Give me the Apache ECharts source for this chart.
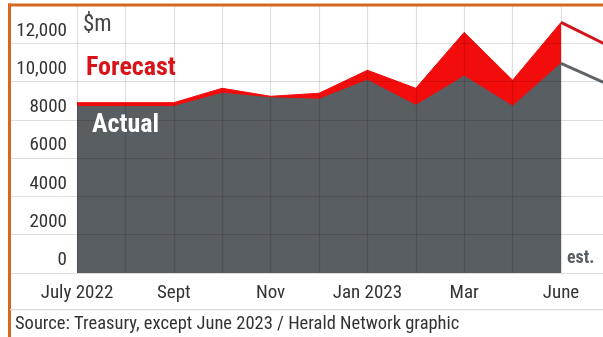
<!DOCTYPE html>
<html>
<head>
<meta charset="utf-8">
<script src="https://cdn.jsdelivr.net/npm/echarts@6/dist/echarts.min.js"></script>
<style>
  html, body { margin: 0; padding: 0; background: #fff; }
  #chart { width: 603px; height: 337px; }
</style>
</head>
<body>
<div id="chart"></div>
<script>
// Monthly tax take, $m (category labels as printed on the axis)
const months = ['July 2022', '', 'Sept', '', 'Nov', '', 'Jan 2023', '', 'Mar', '', 'June', ''];
const forecast = [8900, 8900, 8900, 9650, 9230, 9390, 10590, 9650, 12570, 10070, 13090];
const actual   = [8700, 8700, 8700, 9390, 9150, 9080, 10070, 8760, 10280, 8710, 10950];
// June 2023 estimate, drawn as lines only
const forecastEst = [13090, 11840];
const actualEst   = [10950, 9820];
const yTicks = [0, 2000, 4000, 6000, 8000, 10000, 12000];
const yTickLabels = ['0', '2000', '4000', '6000', '8000', '10,000', '12,000'];

const FONT = '"Roboto Condensed","Liberation Sans Narrow","DejaVu Sans Condensed",Roboto,sans-serif';
const RED = '#f20c0c';
const GREY = '#595e63';

const lastIdx = forecast.length - 1;
function estSeries(vals) {
  const arr = months.map(() => null);
  arr[lastIdx] = vals[0];
  arr[lastIdx + 1] = vals[1];
  return arr;
}

const chart = echarts.init(document.getElementById('chart'), null, { renderer: 'canvas' });
chart.setOption({
  animation: false,
  textStyle: { fontFamily: FONT },
  grid: [
    // plot runs slightly past the right edge so the estimate line is cut off
    { left: 77, width: 532.4, top: 5, bottom: 64, outerBoundsMode: 'none', containLabel: false },
    { left: 10, right: 0, top: 5, bottom: 64, outerBoundsMode: 'none', containLabel: false }
  ],
  xAxis: [
    {
      type: 'category', gridIndex: 0, data: months, boundaryGap: false,
      axisLine: { show: false }, axisTick: { show: false },
      axisLabel: { interval: 0, margin: 11, fontSize: 19, color: '#333', fontFamily: FONT },
      splitLine: { show: true, lineStyle: { color: 'rgba(0,0,0,0.13)', width: 1.2 } },
      z: 5
    },
    {
      type: 'value', gridIndex: 1, min: 0, max: 1, show: false
    }
  ],
  yAxis: [
    {
      type: 'value', gridIndex: 0, min: 0, max: 14000, interval: 2000,
      axisLine: { show: false }, axisTick: { show: false },
      splitLine: { show: false },
      axisLabel: {
        margin: 10, fontSize: 19, color: '#333', fontFamily: FONT,
        verticalAlign: 'bottom', padding: [0, 0, 3, 0], showMaxLabel: false,
        formatter: v => { const i = yTicks.indexOf(v); return i >= 0 ? yTickLabels[i] : ''; }
      }
    },
    {
      type: 'value', gridIndex: 1, min: 0, max: 14000, interval: 2000,
      axisLine: { show: false }, axisTick: { show: false }, axisLabel: { show: false },
      splitLine: { show: true, lineStyle: { color: 'rgba(0,0,0,0.13)', width: 1.2 } },
      z: 5
    }
  ],
  series: [
    {
      name: 'Forecast', type: 'line', xAxisIndex: 0, yAxisIndex: 0,
      data: forecast, symbol: 'none',
      lineStyle: { color: RED, width: 1 },
      areaStyle: { color: RED, opacity: 1 }, z: 2
    },
    {
      name: 'Actual', type: 'line', xAxisIndex: 0, yAxisIndex: 0,
      data: actual, symbol: 'none',
      lineStyle: { color: GREY, width: 1 },
      areaStyle: { color: GREY, opacity: 1 }, z: 3
    },
    {
      name: 'Forecast est.', type: 'line', xAxisIndex: 0, yAxisIndex: 0,
      data: estSeries(forecastEst), symbol: 'none',
      lineStyle: { color: '#d4161c', width: 3 }, z: 4
    },
    {
      name: 'Actual est.', type: 'line', xAxisIndex: 0, yAxisIndex: 0,
      data: estSeries(actualEst), symbol: 'none',
      lineStyle: { color: '#5f6468', width: 3 }, z: 4
    }
  ],
  graphic: [
    // frame
    { type: 'rect', shape: { x: 8, y: 3.5, width: 600, height: 3 }, style: { fill: '#d2691e' }, z: 100 },
    { type: 'rect', shape: { x: 8, y: 3.5, width: 3, height: 340 }, style: { fill: '#d2691e' }, z: 100 },
    { type: 'rect', shape: { x: 10, y: 309, width: 600, height: 1.2 }, style: { fill: '#d9d9d9' }, z: 100 },
    // annotations
    { type: 'text', left: 83, top: 14, style: { text: '$m', font: '23px ' + FONT, fill: '#444' }, z: 100 },
    { type: 'text', left: 86, top: 55, style: { text: 'Forecast', font: 'bold 26px ' + FONT, fill: '#d7141a' }, z: 100 },
    { type: 'text', left: 92, top: 112, style: { text: 'Actual', font: 'bold 26px ' + FONT, fill: '#fff' }, z: 100 },
    { type: 'text', left: 567, top: 249, style: { text: 'est.', font: 'bold 18px ' + FONT, fill: '#5a5f63' }, z: 100 },
    { type: 'text', left: 15, top: 315, style: { text: 'Source: Treasury, except June 2023 / Herald Network graphic', font: '18.5px ' + FONT, fill: '#333' }, z: 100 }
  ]
});
</script>
</body>
</html>
